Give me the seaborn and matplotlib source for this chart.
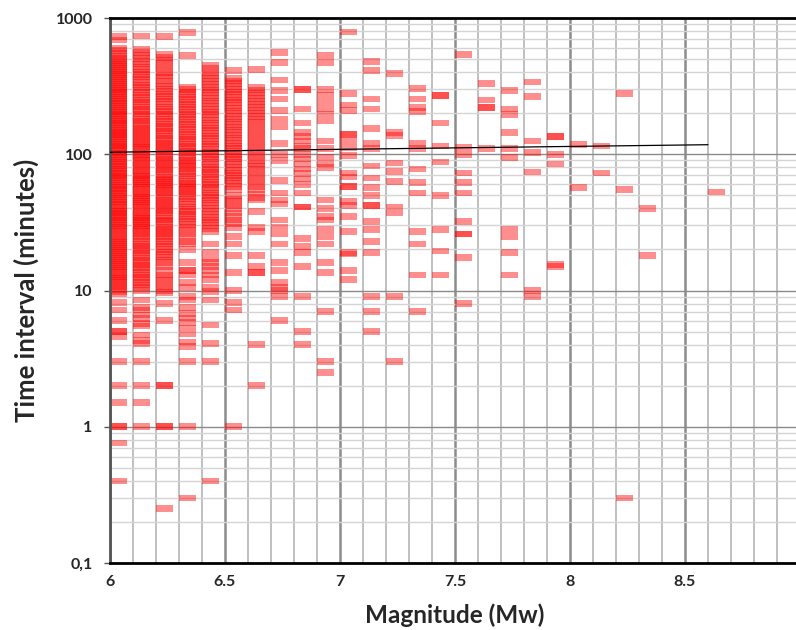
import numpy as np
import pandas as pd
import matplotlib
matplotlib.use("Agg")
import matplotlib.pyplot as plt
import seaborn as sns
from matplotlib.path import Path
from matplotlib.markers import MarkerStyle
from matplotlib.ticker import MultipleLocator, LogLocator, NullFormatter

# Zeitintervalle (Minuten) je Magnitudenklasse
col_60 = [730, 690,
          600, 575, 548, 525, 505, 486, 470, 455, 440, 425, 410, 398, 385, 372, 360, 348,
          337, 326, 315, 305, 296, 287, 278, 270, 262, 254, 246, 238, 231, 224, 217, 210,
          204, 198, 192, 186, 180, 175, 170, 165, 160, 155, 150, 146, 142, 138, 134, 130,
          126, 122, 118, 115, 112, 108, 105, 102, 99, 96, 93, 90, 88, 85, 82, 80, 78, 75,
          73, 71, 69, 67, 65, 63, 61, 59, 57, 55.5, 54, 52, 50.5, 49, 47.5, 46, 44.5, 43,
          42, 40.5, 39, 38, 37, 36, 35, 34, 33, 32, 31, 30, 29, 28, 27, 26, 25, 24, 23.2,
          22.5, 21.8, 21, 20.3, 19.6, 19, 18.4, 17.8, 17.2, 16.6, 16, 15.5, 15, 14.5, 14,
          13.5, 13, 12.6, 12.2, 11.8, 11.4, 11, 10.6, 10.2, 9.8, 9.4,
          8.2, 7.2, 6, 5, 5, 4.6, 3, 2, 1.5, 1, 1, 0.76, 0.4]
col_61 = [740, 590, 560, 530, 505, 480, 458, 438, 420, 402, 385, 368, 352, 337, 323, 310,
          297, 285, 273, 262, 251, 241, 231, 222, 213, 205, 197, 189, 182, 175, 168, 162,
          156, 150, 144, 139, 134, 129, 124, 120, 116, 112, 108, 104, 100, 97, 94, 91, 88,
          85, 82, 79, 76, 74, 71, 69, 67, 65, 63, 61, 59, 57, 55, 53, 51, 49.5, 48, 46.5,
          45, 43.5, 42, 40.5, 39, 37.5, 36, 35, 34, 33, 32, 31, 30, 29, 28, 27, 26, 25, 24,
          23, 22, 21.2, 20.4, 19.6, 18.8, 18, 17.3, 16.6, 16, 15.4, 14.8, 14.2, 13.6, 13,
          12.5, 12, 11.5, 11, 10.5, 10,
          8.5, 7.5, 7.2, 6.6, 6.2, 5.7, 5.5, 4.7, 4.3, 4.1, 3, 2, 1.5, 1]
col_62 = [730, 540, 515, 490, 465, 440, 415, 395, 375, 370,
          345, 330, 316, 302, 289, 277, 265, 254, 243, 233, 223, 214, 205, 197, 189, 181,
          174, 167, 160, 154, 148, 142, 136, 131, 126, 121, 116, 112, 108, 104, 100, 96, 92,
          89, 86, 83, 80, 77, 74, 71, 68, 66, 64, 62, 60, 58, 56, 54, 52, 50, 48, 46, 44.5,
          43, 41.5, 40, 38.5, 37, 35.5, 34, 33, 32, 30.5, 29, 28, 27, 26, 25, 24, 23, 22,
          21, 20, 19.2, 18.4, 17.6, 16.8, 16, 15, 14, 13, 12.4, 11.8, 11.2, 10.6, 10, 9.7,
          8, 6, 2, 2, 1, 1, 0.25]
col_63 = [780, 530,
          310, 298, 286, 274, 263, 252, 242, 232, 222, 213, 204, 196, 188, 180, 173, 166,
          159, 152, 146, 140, 134, 129, 124, 119, 114, 110, 106, 102, 98, 94, 90, 87, 84,
          81, 78, 75, 72, 69, 66, 63, 61, 59, 57, 55, 53, 51, 49, 47, 45, 43, 41, 39.5, 38,
          36.5, 35, 33.5, 32, 30.5, 29, 27.5, 26, 24.5, 23, 22, 20, 16, 14, 14, 13, 11.5,
          10.5, 9, 8.5, 7.5, 6.8, 6.3, 5.8, 5.3, 4.8, 4.2, 3.9, 3, 1, 0.3]
col_64 = [450, 425, 400, 380, 360, 342, 325, 310, 296, 283, 270, 258, 246, 235, 224, 214,
          204, 195, 186, 178, 170, 163, 156, 149, 142, 136, 130, 124, 119, 114, 109, 104,
          100, 96, 92, 88, 84, 80, 77, 74, 71, 68, 65, 62, 60, 57, 55, 52, 50, 48, 46, 44,
          42, 40, 38, 36, 34.5, 33, 31.5, 30, 28.5, 27, 22, 19, 17, 16, 15, 14, 13, 12,
          10.5, 9.8, 8.5, 5.6, 4.1, 3, 0.4]
col_65 = [410, 360, 345, 330, 315, 300, 287, 274, 262, 250, 239, 228, 218, 208, 199, 190,
          181, 173, 165, 158, 151, 144, 138, 132, 126, 120, 115, 110, 105, 100, 96, 92, 88,
          84, 80, 76, 73, 70, 67, 64, 61, 58, 55, 50, 47, 45, 42, 40, 37, 35, 33, 31, 29,
          25, 22, 18, 13.5, 10, 8.2, 7.2, 1]
col_66 = [420, 310, 296, 282, 269, 256, 244, 232, 221, 210, 200, 190, 181, 172, 164, 156,
          148, 141, 134, 127, 121, 115, 109, 104, 99, 94, 89, 85, 81, 77, 73, 69, 65, 62,
          58, 55, 51, 48, 46, 38, 29, 27, 18, 15, 13.5, 13.5, 4, 2]
col_67 = [560, 470, 350, 295, 255, 210, 180, 160, 120, 100, 90, 64, 52, 46, 43, 33, 29, 26,
          22, 16, 14, 11.5, 10.5, 10, 9, 6]
col_68 = [300, 300, 215, 170, 145, 135, 125, 115, 110, 100, 92, 85, 78, 72, 66, 60, 52, 41,
          41, 24, 21, 19, 15, 9, 5, 4]
col_69 = [530, 470, 300, 270, 240, 215, 195, 175, 125, 110, 95, 85, 80, 46, 40, 35, 33, 28,
          25, 22, 16, 13.5, 7, 3, 2.5]
col_70 = [790, 280, 230, 210, 140, 140, 125, 112, 98, 73, 68, 58, 58, 45, 42, 35, 27, 19,
          18.5, 14, 12]
col_71 = [480, 410, 255, 215, 155, 120, 110, 82, 67, 57, 50, 42, 42, 32, 28, 23, 19, 9, 7, 5]
col_72 = [390, 145, 137, 86, 75, 63, 41, 37, 9, 3]
col_73 = [305, 255, 220, 205, 120, 110, 78, 62, 52, 27, 22, 13, 7]
col_74 = [270, 270, 170, 115, 88, 50, 28, 19.5, 13]
col_75 = [540, 112, 100, 73, 62, 52, 32, 26, 26, 17.5, 8]
col_76 = [330, 250, 220, 220, 110]
col_77 = [295, 215, 195, 145, 110, 95, 28, 25, 19, 13]
col_78 = [340, 265, 125, 103, 74, 10, 9]
col_79 = [135, 135, 100, 85, 15.5, 15]
col_80 = [118, 57]
col_81 = [115, 73]
col_82 = [280, 55, 0.3]
col_83 = [40, 18]
col_86 = [53]

magnitudes = [6.0, 6.1, 6.2, 6.3, 6.4, 6.5, 6.6, 6.7, 6.8, 6.9, 7.0, 7.1, 7.2, 7.3, 7.4,
              7.5, 7.6, 7.7, 7.8, 7.9, 8.0, 8.1, 8.2, 8.3, 8.6]
intervals = [col_60, col_61, col_62, col_63, col_64, col_65, col_66, col_67, col_68, col_69,
             col_70, col_71, col_72, col_73, col_74, col_75, col_76, col_77, col_78, col_79,
             col_80, col_81, col_82, col_83, col_86]

# Trendlinie
trend_x = [6.0, 8.6]
trend_y = [103.5, 117.5]

xticks = [6, 6.5, 7, 7.5, 8, 8.5, 9]
xtick_labels = ['6', '6.5', '7', '7.5', '8', '8.5', '9']
yticks = [0.1, 1, 10, 100, 1000]
ytick_labels = ['0,1', '1', '10', '100', '1000']

rows = []
for m, vals in zip(magnitudes, intervals):
    for v in vals:
        rows.append((m, v))
df = pd.DataFrame(rows, columns=['Magnitude', 'Interval'])

sns.set_theme(style="white")
plt.rcParams['font.family'] = ['Lato', 'DejaVu Sans']
plt.rcParams['font.weight'] = 'bold'

fig = plt.figure(figsize=(7.96, 6.3), dpi=100)
ax = fig.add_axes([110 / 796, 67 / 630, 690 / 796, 545 / 630])

# kurzer Strich, linksbündig an der Magnitude
dash = MarkerStyle(Path([(0, -0.58), (3, -0.58), (3, 0.58), (0, 0.58), (0, -0.58)],
                        [Path.MOVETO, Path.LINETO, Path.LINETO, Path.LINETO, Path.CLOSEPOLY]))
sns.scatterplot(data=df, x='Magnitude', y='Interval', marker=dash, s=600, color='red',
                alpha=0.44, linewidth=0, edgecolor='none', ax=ax, zorder=2, legend=False)
sns.lineplot(x=trend_x, y=trend_y, color='black', lw=0.9, ax=ax, zorder=3)

ax.set_yscale('log')
ax.set_xlim(6, 9)
ax.set_ylim(0.1, 1000)
ax.set_xticks(xticks, xtick_labels)
ax.set_yticks(yticks, ytick_labels)
ax.xaxis.set_minor_locator(MultipleLocator(0.1))
ax.yaxis.set_minor_locator(LogLocator(base=10, subs=np.arange(2, 10)))
ax.yaxis.set_minor_formatter(NullFormatter())

ax.set_axisbelow(True)
ax.grid(True, which='major', axis='x', color='#8c8c8c', lw=1.8)
ax.grid(True, which='minor', axis='x', color='#c0c0c0', lw=1.4)
ax.grid(True, which='major', axis='y', color='#8a8a8a', lw=1.0)
ax.grid(True, which='minor', axis='y', color='#d4d4d4', lw=1.0)

for side in ['top', 'bottom']:
    ax.spines[side].set_color('black')
    ax.spines[side].set_linewidth(2)
ax.spines['left'].set_color('#555555')
ax.spines['left'].set_linewidth(2)
ax.spines['right'].set_visible(False)

ax.tick_params(axis='x', which='both', length=0, pad=9, labelsize=11.5)
ax.tick_params(axis='y', which='major', length=4.5, width=1, color='#555555', pad=8,
               labelsize=11.5, left=True)
ax.tick_params(axis='y', which='minor', length=0)
for lab in ax.get_xticklabels() + ax.get_yticklabels():
    lab.set_fontweight('bold')

ax.set_xlabel('Magnitude (Mw)', fontsize=17.5, fontweight='bold', labelpad=10)
ax.set_ylabel('Time interval (minutes)', fontsize=18.5, fontweight='bold', labelpad=12)

fig.savefig('out.png', dpi=100)
